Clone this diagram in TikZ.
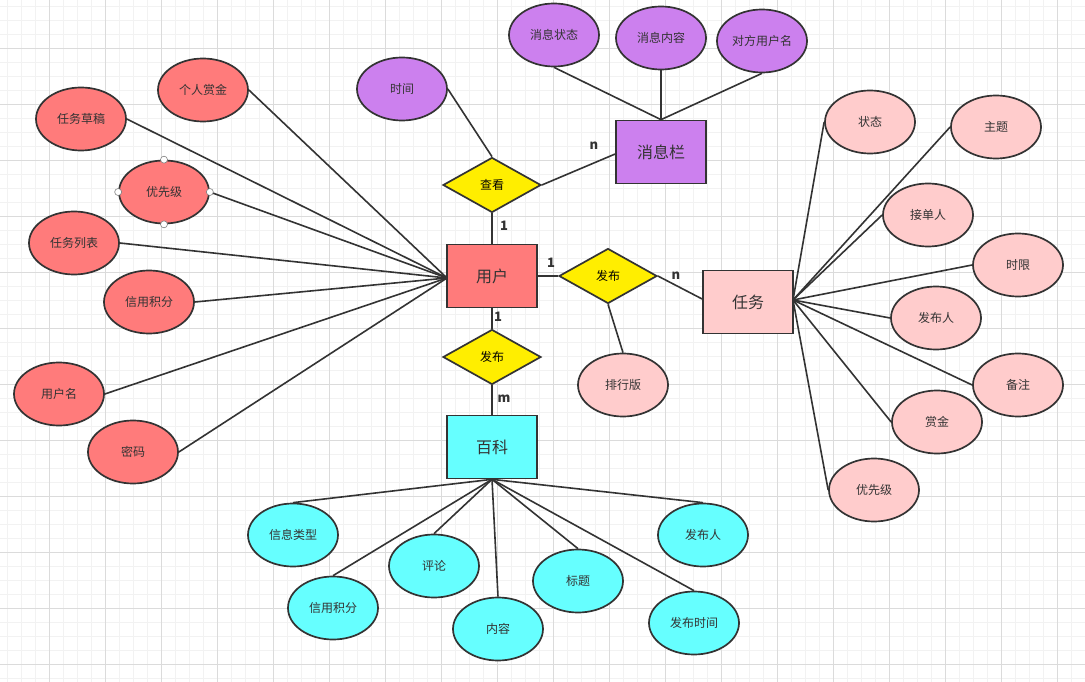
\documentclass[tikz,border=0pt]{standalone}
\usepackage{fontspec}
\setmainfont{Noto Sans CJK SC}
\usepackage{xcolor}
\usetikzlibrary{shapes,arrows,positioning,calc}

\definecolor{userred}{HTML}{FF7B7B}
\definecolor{msgpurple}{HTML}{CC80EE}
\definecolor{relyellow}{HTML}{FFEE00}
\definecolor{wikicyan}{HTML}{66FFFF}
\definecolor{taskpink}{HTML}{FFCCCC}
\definecolor{edgegray}{HTML}{333333}

\begin{document}
\begin{tikzpicture}[
  x=1pt, y=-1pt,
  attr/.style={ellipse, draw=edgegray, line width=1.7pt, minimum width=90pt, minimum height=63pt, inner sep=0pt, font=\fontsize{12}{14}\selectfont, text=edgegray},
  entity/.style={rectangle, draw=edgegray, line width=1.7pt, minimum width=90pt, minimum height=63pt, inner sep=0pt, font=\fontsize{16}{18}\selectfont, text=edgegray},
  rel/.style={diamond, draw=edgegray, fill=relyellow, line width=1.7pt, minimum width=98pt, minimum height=55pt, inner sep=0pt, aspect=1.8, font=\fontsize{12}{14}\selectfont},
  link/.style={draw=edgegray, line width=1.6pt},
  card/.style={font=\fontsize{13}{15}\selectfont\bfseries, text=edgegray},
  handle/.style={circle, draw=gray, fill=white, line width=0.6pt, minimum size=7pt, inner sep=0pt}
]

  % Grid background
  \useasboundingbox (0,0) rectangle (1085,682);
  \begin{scope}
    \clip (0,0) rectangle (1085,682);
    \fill[white] (0,0) rectangle (1085,682);
    \draw[black!5, line width=0.5pt, xshift=7pt, yshift=8pt] (-14,0) grid[step=14pt] (1092,714);
    \draw[black!14, line width=0.6pt, xshift=-7pt, yshift=8pt] (0,0) grid[step=56pt] (1120,714);
  \end{scope}

  % Entities
  \node[entity, fill=userred] (User) at (492,276) {用户};
  \node[entity, fill=msgpurple] (Msg) at (661,152) {消息栏};
  \node[entity, fill=taskpink] (Task) at (748,302) {任务};
  \node[entity, fill=wikicyan] (Wiki) at (492,447) {百科};

  % Relationships
  \node[rel] (View) at (492,185) {查看};
  \node[rel] (PubTask) at (608,276) {发布};
  \node[rel] (PubWiki) at (492,357) {发布};

  % User attributes
  \node[attr, fill=userred] (Bonus) at (203,90) {个人赏金};
  \node[attr, fill=userred] (Draft) at (81,119) {任务草稿};
  \node[attr, fill=userred] (Prio) at (164,192) {优先级};
  \node[attr, fill=userred] (TaskList) at (74,243) {任务列表};
  \node[attr, fill=userred] (Credit) at (149,302) {信用积分};
  \node[attr, fill=userred] (UName) at (59,394) {用户名};
  \node[attr, fill=userred] (Pwd) at (133,452) {密码};

  % Message attributes
  \node[attr, fill=msgpurple] (Time) at (402,89) {时间};
  \node[attr, fill=msgpurple] (MState) at (554,35) {消息状态};
  \node[attr, fill=msgpurple] (MText) at (661,38) {消息内容};
  \node[attr, fill=msgpurple] (Peer) at (762,41) {对方用户名};

  % Task attributes
  \node[attr, fill=taskpink] (Rank) at (623,385) {排行版};
  \node[attr, fill=taskpink] (TState) at (870,122) {状态};
  \node[attr, fill=taskpink] (Topic) at (996,127) {主题};
  \node[attr, fill=taskpink] (Taker) at (928,215) {接单人};
  \node[attr, fill=taskpink] (Limit) at (1018,265) {时限};
  \node[attr, fill=taskpink] (TPub) at (936,318) {发布人};
  \node[attr, fill=taskpink] (Note) at (1018,385) {备注};
  \node[attr, fill=taskpink] (Reward) at (937,422) {赏金};
  \node[attr, fill=taskpink] (TPrio) at (874,490) {优先级};

  % Wiki attributes
  \node[attr, fill=wikicyan] (InfoType) at (293,535) {信息类型};
  \node[attr, fill=wikicyan] (WCredit) at (333,608) {信用积分};
  \node[attr, fill=wikicyan] (Comment) at (434,566) {评论};
  \node[attr, fill=wikicyan] (Content) at (498,629) {内容};
  \node[attr, fill=wikicyan] (Title) at (578,581) {标题};
  \node[attr, fill=wikicyan] (WPub) at (703,535) {发布人};
  \node[attr, fill=wikicyan] (PubTime) at (694,623) {发布时间};

  % Relationship links
  \draw[link] (View) -- (User);
  \draw[link] (View.east) -- (Msg.west |- 0,154);
  \draw[link] (Time.east) -- (View.north);
  \draw[link] (User) -- (PubTask);
  \draw[link] (PubTask.east) -- (Task.west |- 0,299);
  \draw[link] (PubTask.south) -- (Rank.north);
  \draw[link] (User) -- (PubWiki);
  \draw[link] (PubWiki) -- (Wiki);

  % Cardinalities
  \node[card] (c1) at (504,226) {1};
  \node[card] (c2) at (594,146) {n};
  \node[card] (c3) at (551,263) {1};
  \node[card] (c4) at (676,276) {n};
  \node[card] (c5) at (498,317) {1};
  \node[card] (c6) at (504,399) {m};

  % Attribute links
  \coordinate (uin) at (447,278);
  \foreach \a in {Bonus,Draft,Prio,TaskList,Credit,UName,Pwd}
    \draw[link] (\a.east) -- (uin);
  \foreach \a in {MState,MText,Peer}
    \draw[link] (\a.south) -- (Msg.north);
  \coordinate (tout) at (793,300);
  \foreach \a in {TState,Topic,Taker,Limit,TPub,Note,Reward,TPrio}
    \draw[link] (tout) -- (\a.west);
  \foreach \a in {InfoType,WCredit,Comment,Content,Title,WPub,PubTime}
    \draw[link] (Wiki.south) -- (\a.north);

  % Selection handles
  \foreach \p in {north,south,east,west}
    \node[handle] at (Prio.\p) {};

\end{tikzpicture}
\end{document}
